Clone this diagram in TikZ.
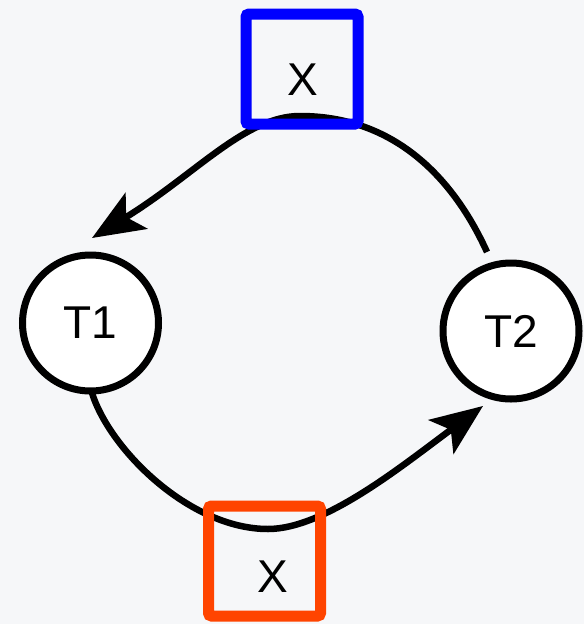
\documentclass[tikz,border=0pt]{standalone}
\usepackage{fontspec}
\setmainfont{Liberation Sans}
\usetikzlibrary{arrows.meta}
\definecolor{bg}{RGB}{246,247,249}
\definecolor{xblue}{RGB}{0,0,255}
\definecolor{xorange}{RGB}{255,68,0}
\tikzset{
  tnode/.style={circle, draw=black, fill=white, line width=7pt, minimum size=136pt, inner sep=0pt, font=\fontsize{46}{50}\selectfont},
  sqbox/.style={draw=#1, line width=11pt, rounded corners=3pt, minimum width=112pt, minimum height=110pt, inner sep=0pt},
  lbl/.style={inner sep=0pt, font=\fontsize{46}{50}\selectfont},
  conn/.style={line width=6.5pt, draw=black, -{Stealth[length=52pt, width=42pt, inset=12pt]}}
}
\begin{document}
\begin{tikzpicture}[x=1pt, y=-1pt]
\fill[bg] (0,0) rectangle (584,624);
\useasboundingbox (0,0) rectangle (584,624);
\node[tnode] (t1) at (90.5,323) {T1};
\node[tnode] (t2) at (511,331) {T2};
\coordinate (topstart) at (487,252);
\coordinate (topmid) at (300,116);
\coordinate (topend) at (92,238);
\coordinate (botstart) at (92,393);
\coordinate (botmid) at (268,529);
\coordinate (botend) at (483,406);
\draw[conn] (topstart) .. controls (452,175) and (392,116) .. (topmid)
  .. controls (245,116) and (195,175) .. (topend);
\draw[conn] (botstart) .. controls (110,450) and (190,529) .. (botmid)
  .. controls (325,529) and (403,465) .. (botend);
\node[sqbox=xblue] (xtop) at (302,69) {};
\node[lbl] (xtopl) at (303,80) {X};
\node[sqbox=xorange] (xbot) at (264.5,561) {};
\node[lbl] (xbotl) at (273,577) {X};
\end{tikzpicture}
\end{document}
